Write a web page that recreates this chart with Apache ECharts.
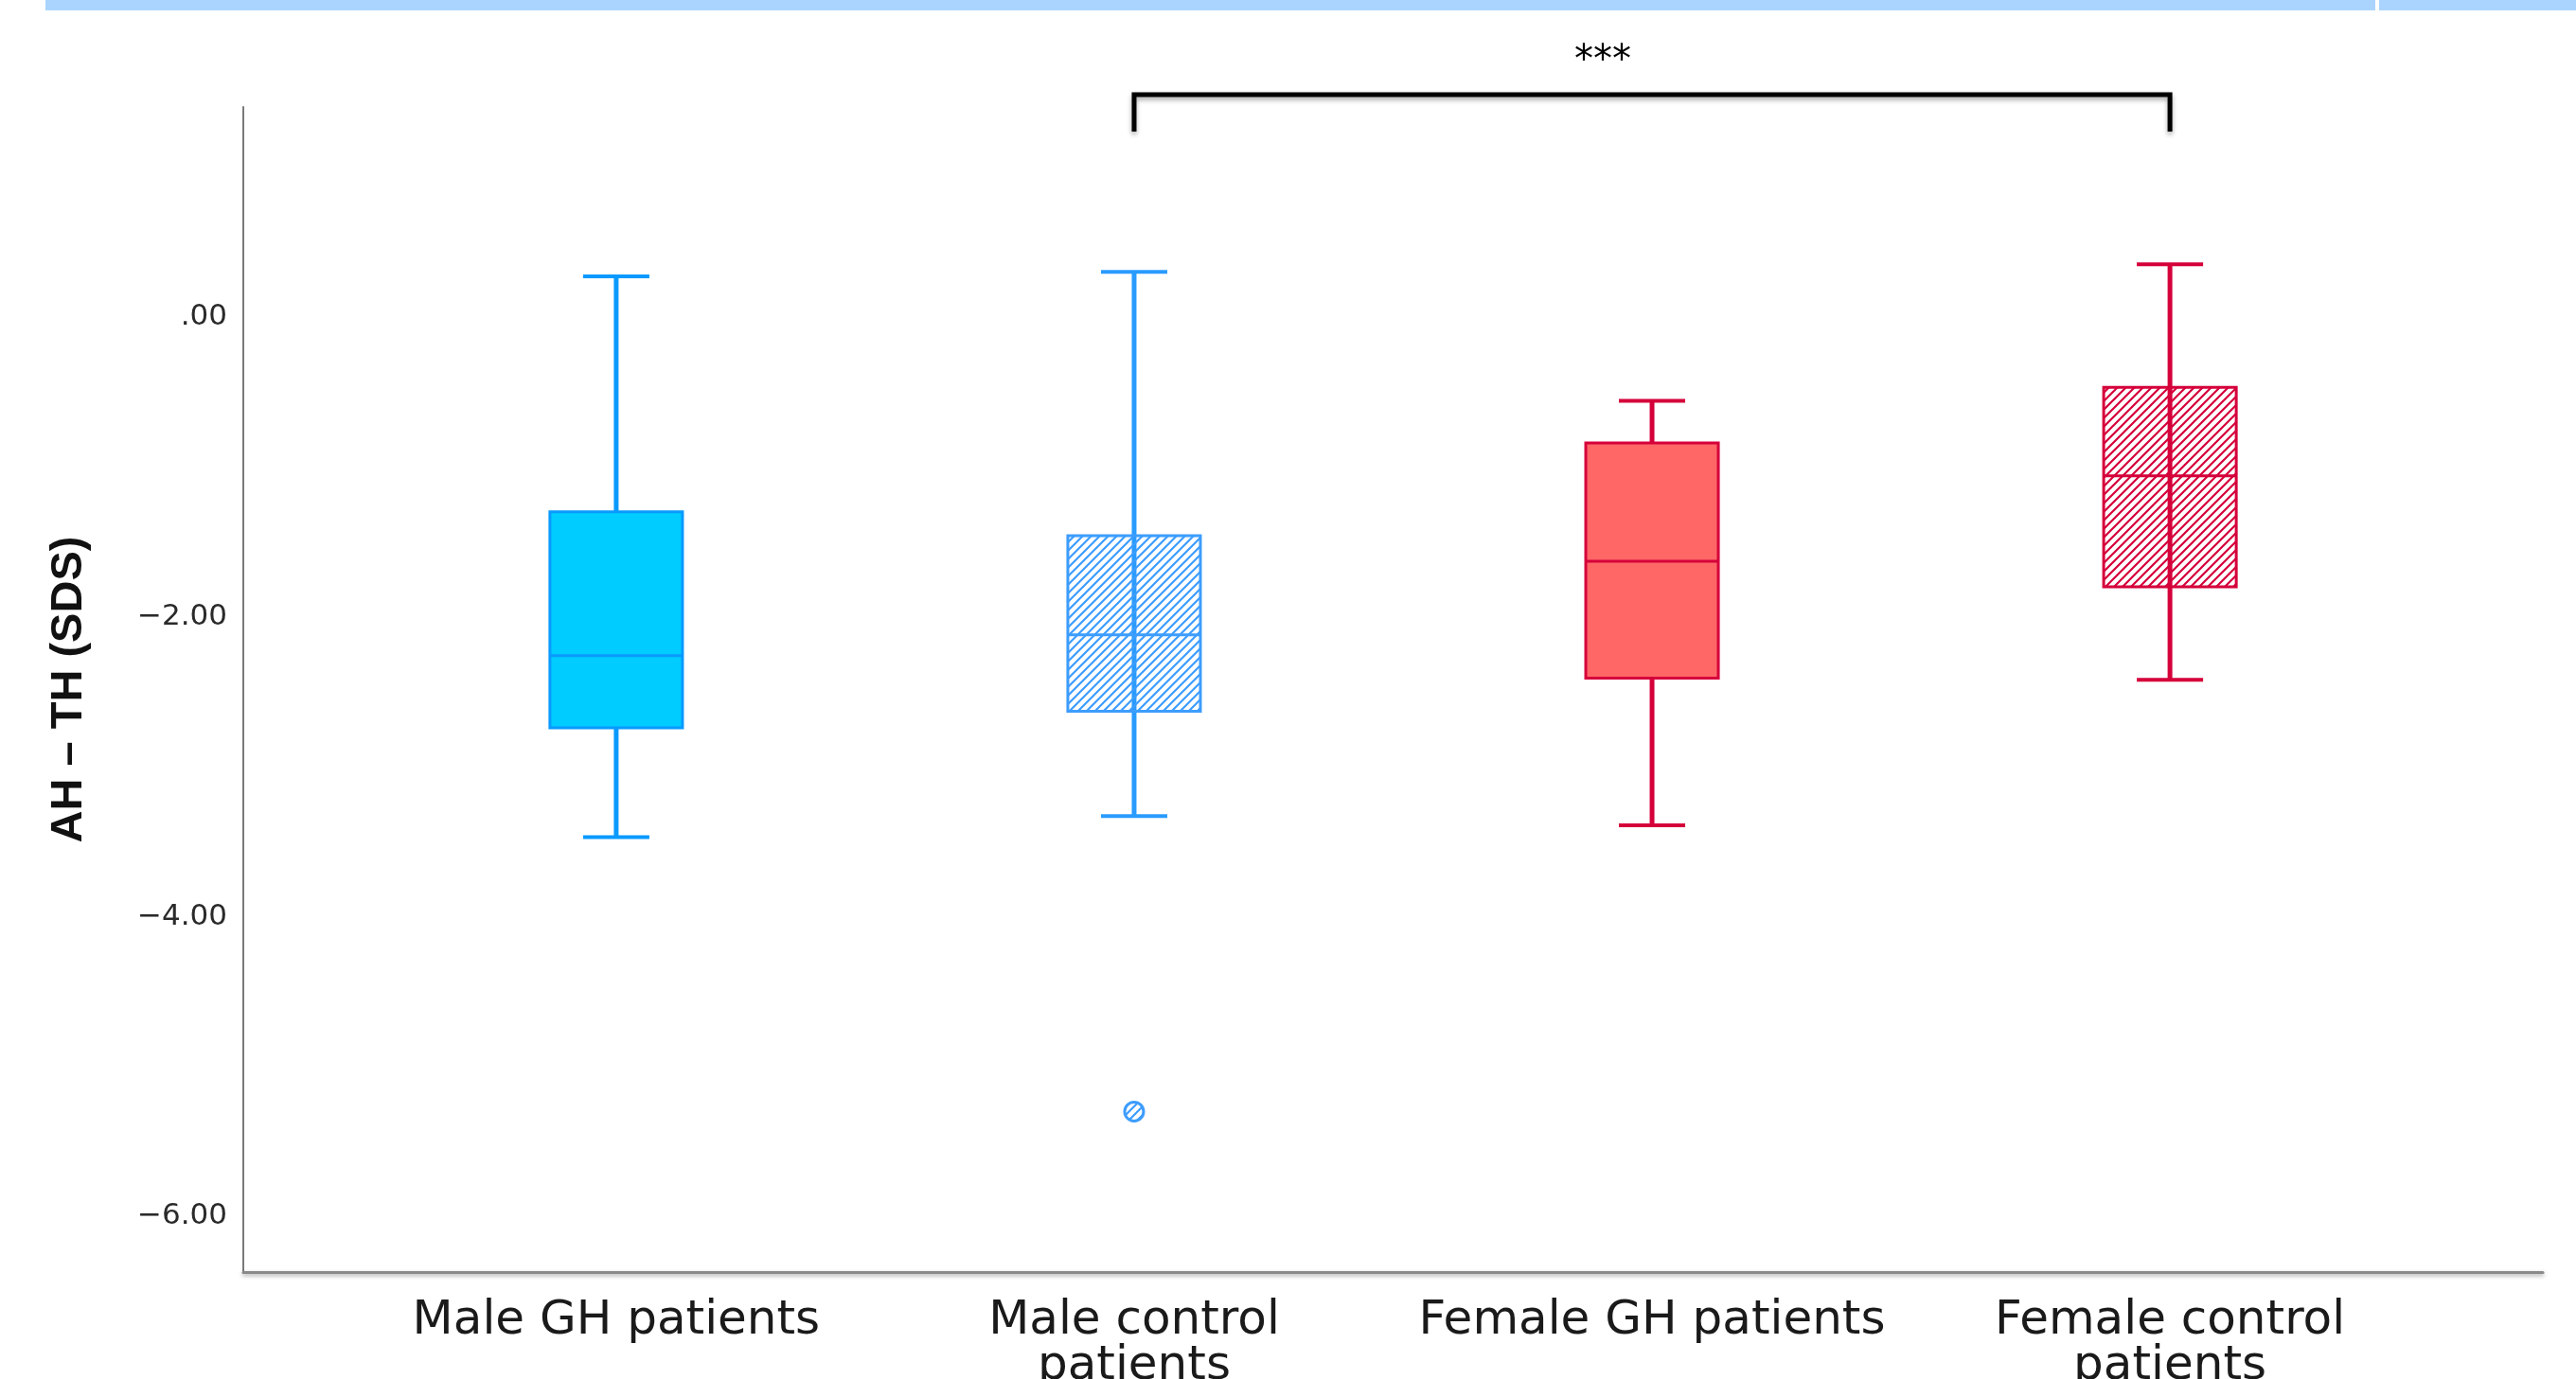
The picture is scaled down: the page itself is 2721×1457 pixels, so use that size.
<!DOCTYPE html>
<html><head><meta charset="utf-8">
<script src="https://cdn.jsdelivr.net/npm/echarts@6/dist/echarts.min.js"></script>
<style>html,body{margin:0;padding:0;background:#fff;} #c{width:2721px;height:1457px;}</style>
</head><body><div id="c"></div>
<script>
// ---- data ----
const categories = ['Male GH patients', 'Male control\npatients', 'Female GH patients', 'Female control\npatients'];
const boxMin    = [-3.47, -3.33, -3.39, -2.42];
const boxQ1     = [-2.74, -2.63, -2.41, -1.80];
const boxMedian = [-2.26, -2.12, -1.63, -1.06];
const boxQ3     = [-1.30, -1.46, -0.84, -0.47];
const boxMax    = [0.27, 0.30, -0.56, 0.35];
const outlierCategory = [1];
const outlierValue = [-5.30];
const yTickValues = [0, -2, -4, -6];
const yTickLabels = ['.00', '\u22122.00', '\u22124.00', '\u22126.00'];
const bracketFrom = [1];
const bracketTo = [3];
const bracketLabel = ['***'];
const yAxisTitle = 'AH \u2013 TH (SDS)';

// ---- styles ----
function hatch(color) {
  const s = 9;
  const c = document.createElement('canvas');
  c.width = s; c.height = s;
  const ctx = c.getContext('2d');
  ctx.strokeStyle = color; ctx.lineWidth = 2.2;
  ctx.beginPath();
  ctx.moveTo(-1, s + 1); ctx.lineTo(s + 1, -1);
  ctx.moveTo(-s / 2 - 1, s / 2 + 1); ctx.lineTo(s / 2 + 1, -s / 2 - 1);
  ctx.moveTo(s / 2 - 1, s * 1.5 + 1); ctx.lineTo(s * 1.5 + 1, s / 2 - 1);
  ctx.stroke();
  return { image: c, repeat: 'repeat' };
}
const BLUE = '#2A9BFF', RED = '#D5003A';
const boxStyles = [
  { fill: '#00CCFF', stroke: '#0A9AFF', whisker: '#0A9AFF' },
  { fill: hatch('#3D9DFF'), stroke: '#3D9DFF', whisker: BLUE },
  { fill: '#FF6666', stroke: RED, whisker: RED },
  { fill: hatch(RED), stroke: RED, whisker: RED }
];

const chart = echarts.init(document.getElementById('c'), null, { renderer: 'canvas' });

const option = {
  animation: false,
  backgroundColor: '#fff',
  grid: { left: 257, right: 35, top: 113, bottom: 113, containLabel: false, outerBoundsMode: 'none' },
  graphic: [
    { type: 'rect', shape: { x: 48, y: 0, width: 2461, height: 11 }, style: { fill: '#AAD4FD' } },
    { type: 'rect', shape: { x: 2513, y: 0, width: 208, height: 11 }, style: { fill: '#AAD4FD' } }
  ],
  xAxis: {
    type: 'value', min: -0.72, max: 3.72,
    splitLine: { show: false },
    axisTick: { show: false },
    axisLine: { show: true, onZero: false, lineStyle: { color: '#8a8a8a', width: 3, shadowBlur: 4, shadowColor: 'rgba(0,0,0,0.35)', shadowOffsetY: 2 } },
    axisLabel: {
      customValues: [0, 1, 2, 3],
      formatter: v => categories[Math.round(v)],
      fontFamily: 'DejaVu Sans', fontSize: 50, lineHeight: 48, color: '#1a1a1a',
      margin: 28, hideOverlap: false
    }
  },
  yAxis: {
    type: 'value', min: -6.37, max: 1.40,
    name: yAxisTitle, nameLocation: 'middle', nameGap: 160,
    nameTextStyle: { fontFamily: 'Liberation Sans', fontWeight: 'bold', fontSize: 47, color: '#111' },
    splitLine: { show: false },
    axisTick: { show: false },
    axisLine: { show: true, onZero: false, lineStyle: { color: '#7a7a7a', width: 2 } },
    axisLabel: {
      customValues: yTickValues,
      formatter: v => yTickLabels[yTickValues.indexOf(Math.round(v))],
      fontFamily: 'DejaVu Sans', fontSize: 31, color: '#2a2a2a', margin: 17,
      padding: [10, 0, 0, 0]
    }
  },
  series: [
    {
      type: 'custom',
      data: categories.map((_, i) => [i, boxMin[i], boxQ1[i], boxMedian[i], boxQ3[i], boxMax[i]]),
      encode: { x: 0, y: [1, 2, 3, 4, 5] },
      renderItem(params, api) {
        const i = api.value(0);
        const st = boxStyles[i];
        const pMin = api.coord([i, api.value(1)]);
        const pQ1 = api.coord([i, api.value(2)]);
        const pMed = api.coord([i, api.value(3)]);
        const pQ3 = api.coord([i, api.value(4)]);
        const pMax = api.coord([i, api.value(5)]);
        const x = pMed[0];
        const bw = api.size([1, 0])[0] * 0.256;
        const cw = bw * 0.5;
        return {
          type: 'group',
          children: [
            { type: 'line', shape: { x1: x, y1: pMax[1], x2: x, y2: pMin[1] }, style: { stroke: st.whisker, lineWidth: 5 } },
            { type: 'line', shape: { x1: x - cw / 2, y1: pMax[1], x2: x + cw / 2, y2: pMax[1] }, style: { stroke: st.whisker, lineWidth: 4 } },
            { type: 'line', shape: { x1: x - cw / 2, y1: pMin[1], x2: x + cw / 2, y2: pMin[1] }, style: { stroke: st.whisker, lineWidth: 4 } },
            { type: 'rect', shape: { x: x - bw / 2, y: pQ3[1], width: bw, height: pQ1[1] - pQ3[1] }, style: { fill: st.fill, stroke: st.stroke, lineWidth: 3 } },
            { type: 'line', shape: { x1: x - bw / 2, y1: pMed[1], x2: x + bw / 2, y2: pMed[1] }, style: { stroke: st.stroke, lineWidth: 3 } }
          ]
        };
      }
    },
    {
      type: 'custom',
      data: outlierCategory.map((c, k) => [c, outlierValue[k]]),
      encode: { x: 0, y: 1 },
      renderItem(params, api) {
        const p = api.coord([api.value(0), api.value(1)]);
        return { type: 'circle', shape: { cx: p[0], cy: p[1], r: 10 }, style: { fill: hatch('#3D9DFF'), stroke: '#3D9DFF', lineWidth: 3 } };
      }
    },
    {
      type: 'custom',
      clip: false,
      data: bracketFrom.map((f, k) => [f, bracketTo[k]]),
      encode: { x: [0, 1] },
      renderItem(params, api) {
        const a = api.coord([api.value(0), 1.482]);
        const b = api.coord([api.value(1), 1.482]);
        const aEnd = api.coord([api.value(0), 1.236]);
        const t = api.coord([(api.value(0) + api.value(1)) / 2 - 0.095, 1.70]);
        return {
          type: 'group',
          children: [
            { type: 'polyline', shape: { points: [[a[0], aEnd[1]], [a[0], a[1]], [b[0], b[1]], [b[0], aEnd[1]]] },
              style: { stroke: '#000', lineWidth: 5, fill: null, shadowBlur: 5, shadowColor: 'rgba(0,0,0,0.35)', shadowOffsetY: 3 } },
            { type: 'text', x: t[0], y: t[1], style: { text: bracketLabel[params.dataIndex], fontFamily: 'DejaVu Sans', fontSize: 40, fill: '#000', align: 'center', verticalAlign: 'middle' } }
          ]
        };
      }
    }
  ]
};
chart.setOption(option);
</script>
</body></html>
